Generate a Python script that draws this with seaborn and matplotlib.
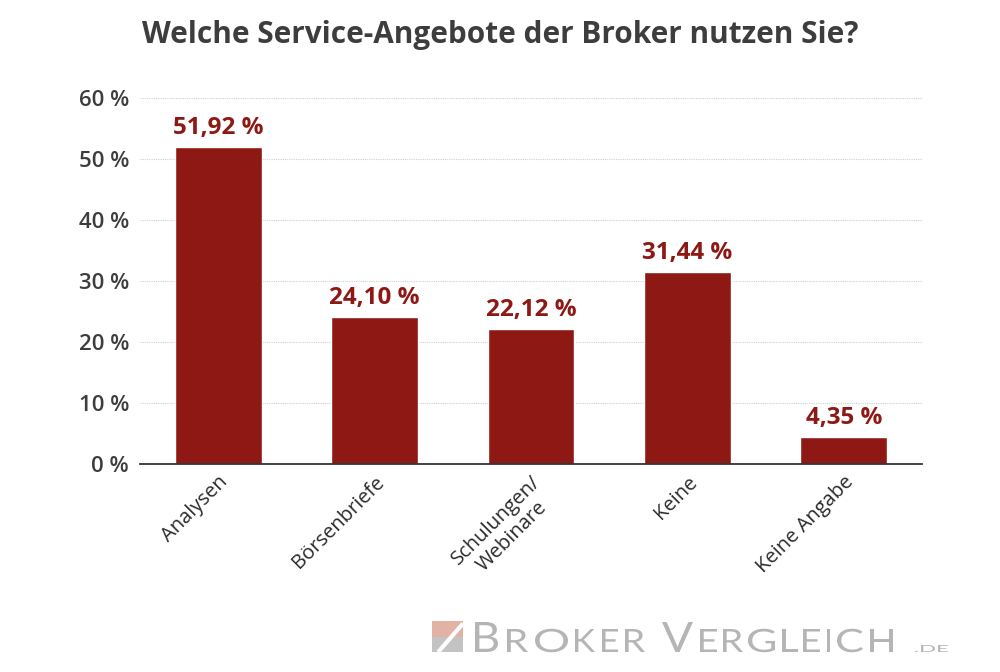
import pandas as pd
import matplotlib
matplotlib.use("Agg")
import matplotlib.pyplot as plt
import seaborn as sns
from matplotlib.textpath import TextPath
from matplotlib.patches import PathPatch
from matplotlib.font_manager import FontProperties
from matplotlib.transforms import Affine2D

categories = ["Analysen", "Börsenbriefe", "Schulungen/\nWebinare", "Keine", "Keine Angabe"]
values = [51.92, 24.10, 22.12, 31.44, 4.35]
value_labels = ["51,92 %", "24,10 %", "22,12 %", "31,44 %", "4,35 %"]
y_ticks = [0, 10, 20, 30, 40, 50, 60]
y_tick_labels = ["0 %", "10 %", "20 %", "30 %", "40 %", "50 %", "60 %"]

df = pd.DataFrame({"Angebot": categories, "Anteil": values})

sns.set_theme(style="white")
plt.rcParams["font.family"] = ["Open Sans", "DejaVu Sans"]

bar_color = "#8e1914"
text_gray = "#3d3d3d"

W, H = 1000, 672
fig = plt.figure(figsize=(W / 100, H / 100), dpi=100)
ax = fig.add_axes([0.14, 0.3095, 0.782, 0.5446])

sns.barplot(data=df, x="Angebot", y="Anteil", color=bar_color, saturation=1,
            width=0.556, ax=ax)

ax.set_xlim(-0.5, 4.5)
ax.set_ylim(0, 60)
ax.set_yticks(y_ticks)
ax.set_yticklabels(y_tick_labels, fontsize=16, fontweight="semibold", color=text_gray)
ax.set_xticks(range(len(categories)))
ax.set_xticklabels(categories, rotation=45, ha="right", rotation_mode="anchor",
                   fontsize=14.5, color="#2a2a2a", multialignment="center",
                   linespacing=1.15)
ax.tick_params(axis="both", length=0)
ax.tick_params(axis="y", pad=8)
ax.tick_params(axis="x", pad=6)
ax.set_xlabel("")
ax.set_ylabel("")

for y in y_ticks[1:]:
    ax.axhline(y, color="#cfcfcf", lw=0.8, ls=(0, (1, 1)), zorder=0)
for s in ["top", "right", "left"]:
    ax.spines[s].set_visible(False)
ax.spines["bottom"].set_color("#333333")
ax.spines["bottom"].set_linewidth(1.3)

for i, (v, lab) in enumerate(zip(values, value_labels)):
    ax.text(i, v + 1.2, lab, ha="center", va="bottom", fontsize=17.5,
            fontweight="bold", color=bar_color)

fig.text(0.5, 0.948, "Welche Service-Angebote der Broker nutzen Sie?", ha="center",
         va="center", fontsize=21.4, fontweight="bold", color=text_gray)

# logo: icon + wide letters (Lato glyphs stretched to the logo's letter widths)
logo_gray = "#b5b5b5"
icon = fig.add_axes([0.432, 1 - 652 / H, 0.031, 31 / H])
icon.fill([0, 1, 1, 0], [0, 0, 0.5, 0.5], color="#c3c3c3", lw=0)
icon.fill([0, 1, 1, 0], [0.5, 0.5, 1, 1], color="#e2b3a4", lw=0)
icon.plot([0.2, 1], [0, 0.92], color="white", lw=3, solid_capstyle="butt")
icon.set_xlim(0, 1)
icon.set_ylim(0, 1)
icon.axis("off")

fp = FontProperties(family="Lato", weight="normal")
cap100 = TextPath((0, 0), "H", size=100, prop=fp).get_extents().height
to_fig = Affine2D().scale(1 / W, 1 / H) + fig.transFigure


def logo_glyph(txt, x0, x1, cap_px, base_px=652):
    tp = TextPath((0, 0), txt, size=100, prop=fp)
    ext = tp.get_extents()
    s = cap_px / cap100
    sx = (x1 - x0) / ext.width
    tr = Affine2D().translate(-ext.x0, 0).scale(sx, s).translate(x0, H - base_px)
    fig.add_artist(PathPatch(tr.transform_path(tp), transform=to_fig,
                             fc=logo_gray, lw=0))


logo_letters = [("B", 475, 498, 30), ("R", 507, 528, 23), ("O", 535, 568, 23),
                ("K", 575, 595, 23), ("E", 602, 618, 23), ("R", 625, 645, 23),
                ("V", 662, 693, 30), ("E", 700, 717, 23), ("R", 723, 743, 23),
                ("G", 748, 775, 23), ("L", 782, 798, 23), ("E", 803, 820, 23),
                ("I", 827, 830, 23), ("C", 837, 863, 23), ("H", 870, 893, 23),
                (".DE", 915, 948, 7)]
for ch, x0, x1, cap in logo_letters:
    logo_glyph(ch, x0, x1, cap)

fig.savefig("out.png", dpi=100)
